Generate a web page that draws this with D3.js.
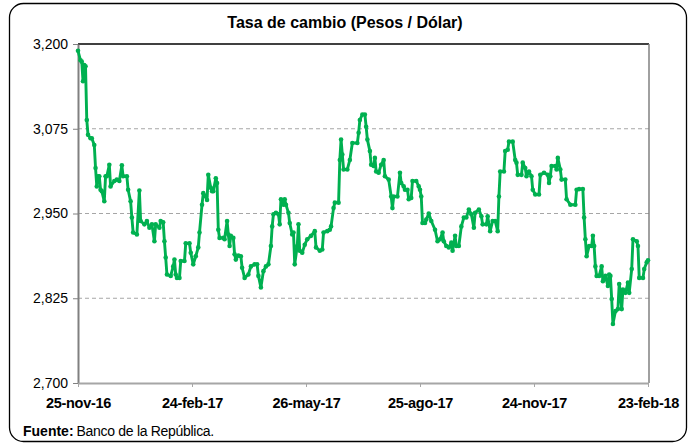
<!DOCTYPE html>
<html>
<head>
<meta charset="utf-8">
<script src="https://cdn.jsdelivr.net/npm/d3@7"></script>
<style>
  body { margin: 0; background: #fff; }
  svg { display: block; font-family: "Liberation Sans", Arial, sans-serif; }
</style>
</head>
<body>
<svg id="chart" width="690" height="445"></svg>
<script>
// TRM (pesos por dolar). days = days since 25-nov-16
var startDate = new Date(2016, 10, 25);
var days = [
  0, 2, 3, 4, 5, 6, 7, 8, 10, 11,
  13, 14, 15, 16, 17, 18, 19, 21, 22, 23,
  25, 26, 29, 31, 33, 35, 36, 39, 40, 42,
  43, 44, 47, 49, 50, 53, 55, 57, 59, 61,
  62, 65, 66, 68, 69, 70, 71, 74, 76, 77,
  78, 79, 81, 82, 85, 86, 89, 90, 92, 94,
  96, 97, 99, 100, 102, 103, 104, 106, 107, 108,
  110, 111, 112, 113, 116, 117, 119, 120, 121, 122,
  124, 125, 126, 128, 130, 131, 133, 136, 138, 141,
  143, 144, 146, 148, 150, 152, 154, 155, 156, 158,
  160, 161, 162, 164, 165, 166, 168, 169, 171, 172,
  173, 175, 176, 177, 179, 181, 183, 186, 189, 190,
  193, 195, 196, 199, 201, 202, 204, 205, 208, 209,
  210, 211, 212, 215, 217, 219, 223, 224, 225, 227,
  229, 230, 231, 233, 234, 236, 237, 238, 240, 242,
  244, 245, 248, 250, 251, 252, 255, 257, 258, 260,
  261, 263, 264, 266, 267, 270, 272, 273, 274, 275,
  277, 278, 280, 282, 285, 287, 289, 291, 292, 294,
  296, 298, 299, 301, 302, 304, 306, 308, 310, 312,
  314, 316, 317, 320, 322, 323, 326, 327, 329, 331,
  333, 335, 336, 337, 340, 341, 343, 344, 347, 349,
  350, 351, 354, 355, 357, 358, 360, 362, 363, 365,
  368, 369, 372, 375, 376, 377, 378, 381, 382, 383,
  385, 386, 389, 390, 393, 397, 398, 400, 403, 404,
  405, 406, 408, 410, 411, 412, 413, 414, 416, 418,
  419, 421, 423, 424, 425, 426, 427, 429, 431, 432,
  433, 434, 435, 437, 439, 440, 442, 443, 446, 447,
  448, 451, 452, 454, 455
];
var trm = [
  3190, 3176, 3174, 3145, 3169, 3167, 3088, 3066, 3061, 3061,
  3051, 3017, 2990, 3005, 3005, 2985, 2983, 2968, 3005, 3005,
  3022, 2990, 2998, 3000, 2998, 3021, 3005, 3005, 2985, 2968,
  2944, 2922, 2919, 2984, 2939, 2934, 2939, 2929, 2934, 2909,
  2934, 2929, 2939, 2937, 2909, 2885, 2860, 2858, 2872, 2882,
  2860, 2855, 2855, 2880, 2880, 2906, 2906, 2892, 2875, 2887,
  2900, 2922, 2963, 2980, 2975, 2970, 3007, 2988, 2983, 2983,
  3002, 2995, 2926, 2914, 2914, 2912, 2939, 2919, 2902, 2917,
  2914, 2890, 2882, 2888, 2887, 2870, 2855, 2860, 2872, 2875,
  2875, 2858, 2841, 2865, 2872, 2875, 2902, 2931, 2949, 2951,
  2949, 2934, 2971, 2963, 2971, 2963, 2951, 2936, 2919, 2922,
  2875, 2902, 2934, 2895, 2892, 2904, 2912, 2917, 2924, 2900,
  2895, 2897, 2922, 2924, 2926, 2931, 2958, 2966, 2966, 3029,
  3059, 3037, 3015, 3015, 3029, 3054, 3054, 3069, 3088, 3096,
  3096, 3078, 3059, 3042, 3022, 3020, 3032, 3012, 3010, 3022,
  3029, 3005, 3000, 2975, 2958, 2975, 2975, 3010, 2995, 2990,
  2985, 2985, 2971, 2973, 2998, 2998, 2990, 2985, 2975, 2936,
  2936, 2941, 2950, 2939, 2926, 2909, 2912, 2922, 2909, 2902,
  2900, 2907, 2895, 2917, 2902, 2902, 2931, 2944, 2944, 2956,
  2949, 2929, 2951, 2956, 2946, 2934, 2934, 2946, 2924, 2939,
  2939, 2924, 2975, 3012, 3012, 3042, 3044, 3056, 3056, 3029,
  3025, 3007, 3007, 3025, 3017, 3005, 3012, 3005, 2985, 2978,
  2978, 3007, 3010, 3007, 2995, 3005, 3020, 3020, 3015, 3032,
  3015, 3000, 3000, 2971, 2963, 2963, 2985, 2986, 2986, 2944,
  2912, 2887, 2902, 2902, 2917, 2902, 2872, 2858, 2858, 2872,
  2850, 2858, 2843, 2860, 2858, 2824, 2787, 2806, 2809, 2846,
  2833, 2809, 2838, 2833, 2848, 2833, 2868, 2912, 2909, 2902,
  2855, 2855, 2868, 2878, 2881
];
var yTicks = [2700, 2825, 2950, 3075, 3200];
var xTickDays = [0, 91, 182, 273, 364, 455];
var meses = ["ene", "feb", "mar", "abr", "may", "jun", "jul", "ago", "sep", "oct", "nov", "dic"];

function drawChart() {
  var svg = d3.select("#chart");
  var pLeft = 78, pRight = 648, pTop = 44, pBottom = 383;
  var green = "#00b050";
  var font = "'Liberation Sans', Arial, sans-serif";

  // outer frame
  svg.append("rect")
    .attr("x", 9.5).attr("y", 3.5)
    .attr("width", 677).attr("height", 438)
    .attr("rx", 14).attr("ry", 14)
    .style("fill", "#fff").style("stroke", "#000").style("stroke-width", 1.3);

  var data = days.map(function (d, i) {
    return { date: d3.timeDay.offset(startDate, d), v: trm[i] };
  });

  var x = d3.scaleTime()
    .domain([startDate, d3.timeDay.offset(startDate, 455)])
    .range([pLeft, pRight]);
  var y = d3.scaleLinear().domain([2700, 3200]).range([pBottom, pTop]);

  // grid lines
  svg.append("g").selectAll("line")
    .data(yTicks.slice(1, 4))
    .enter().append("line")
    .attr("x1", pLeft).attr("x2", pRight + 1)
    .attr("y1", function (d) { return y(d); })
    .attr("y2", function (d) { return y(d); })
    .style("stroke", "#a6a6a6").style("stroke-width", 1)
    .style("stroke-dasharray", "4,3");

  // plot box top and right
  svg.append("line").attr("x1", pLeft).attr("x2", pRight + 1).attr("y1", pTop).attr("y2", pTop)
    .style("stroke", "#000").style("stroke-width", 1.5);
  svg.append("line").attr("x1", pRight + 1).attr("x2", pRight + 1).attr("y1", pTop).attr("y2", pBottom)
    .style("stroke", "#808080").style("stroke-width", 1.5);

  // y axis
  var yAxis = svg.append("g")
    .attr("transform", "translate(" + pLeft + ",0)")
    .call(d3.axisLeft(y).tickValues(yTicks).tickFormat(d3.format(",")).tickSize(5).tickPadding(5).tickSizeOuter(0));
  yAxis.select(".domain").style("stroke", "#808080").style("stroke-width", 2);
  yAxis.selectAll(".tick line").style("stroke", "#808080");
  yAxis.selectAll("text").style("font-size", "14px").style("fill", "#000").style("font-family", font);

  // x axis
  var xAxis = svg.append("g")
    .attr("transform", "translate(0," + pBottom + ")")
    .call(d3.axisBottom(x)
      .tickValues(xTickDays.map(function (d) { return d3.timeDay.offset(startDate, d); }))
      .tickFormat(function (d) {
        return d.getDate() + "-" + meses[d.getMonth()] + "-" + String(d.getFullYear()).slice(2);
      })
      .tickSize(4).tickPadding(11).tickSizeOuter(0));
  xAxis.select(".domain").style("stroke", "#a6a6a6").style("stroke-width", 2);
  xAxis.selectAll(".tick line").style("stroke", "#a6a6a6");
  xAxis.selectAll("text").style("font-size", "14.5px").style("font-weight", "bold")
    .style("fill", "#000").style("font-family", font).style("letter-spacing", "-0.3px");

  // series
  var line = d3.line()
    .x(function (d) { return x(d.date); })
    .y(function (d) { return y(d.v); });

  svg.append("path")
    .datum(data)
    .attr("d", line)
    .style("fill", "none").style("stroke", green).style("stroke-width", 2.9)
    .style("stroke-linejoin", "round");

  svg.append("g").selectAll("circle")
    .data(data)
    .enter().append("circle")
    .attr("cx", function (d) { return x(d.date); })
    .attr("cy", function (d) { return y(d.v); })
    .attr("r", 2.3)
    .style("fill", green);

  // title
  svg.append("text")
    .attr("x", 345).attr("y", 28)
    .attr("text-anchor", "middle")
    .style("font-size", "16px").style("font-weight", "bold")
    .text("Tasa de cambio (Pesos / Dólar)");

  // source
  var src = svg.append("text").attr("x", 23).attr("y", 436).style("font-size", "14px");
  src.append("tspan").style("font-weight", "bold").text("Fuente:");
  src.append("tspan").attr("dx", 3).style("letter-spacing", "-0.3px").text("Banco de la República.");
}

drawChart();
</script>
</body>
</html>
